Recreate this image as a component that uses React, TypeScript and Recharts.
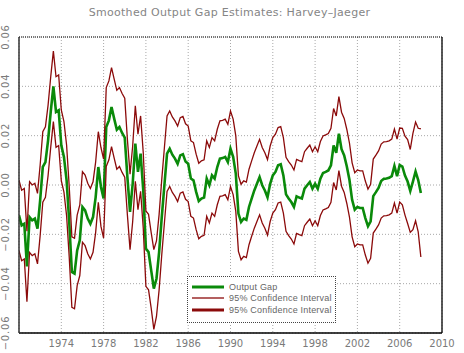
import { LineChart, Line, XAxis, YAxis, CartesianGrid, Legend, ReferenceLine } from 'recharts';

// quarterly observations, 1970Q1 .. 2008Q1
const START_YEAR = 1970;

const gapValues = [
  -0.0123, -0.0164, -0.0157, -0.0330, -0.0130, -0.0143, -0.0136, -0.0177, -0.0062, 0.0073,
  0.0093, 0.0181, 0.0296, 0.0400, 0.0296, 0.0303, 0.0161, 0.0114, 0.0019, -0.0150,
  -0.0353, -0.0359, -0.0265, -0.0224, -0.0089, -0.0103, -0.0136, -0.0157, -0.0130, -0.0049,
  0.0073, -0.0008, -0.0055, 0.0235, 0.0262, 0.0316, 0.0269, 0.0224, 0.0235, 0.0211,
  0.0192, 0.0032, -0.0109, 0.0005, 0.0168, 0.0053, 0.0127, -0.0022, -0.0258, -0.0272,
  -0.0346, -0.0420, -0.0380, -0.0272, -0.0130, -0.0001, 0.0127, 0.0147, 0.0123, 0.0107,
  0.0086, 0.0120, 0.0125, 0.0095, 0.0086, 0.0026, 0.0019, -0.0028, -0.0065, -0.0055,
  -0.0051, 0.0026, -0.0001, 0.0039, 0.0026, 0.0073, 0.0107, 0.0109, 0.0114, 0.0093,
  0.0147, 0.0114, 0.0046, -0.0116, -0.0150, -0.0136, -0.0141, -0.0089, -0.0055, -0.0022,
  0.0005, 0.0032, -0.0001, -0.0022, -0.0050, 0.0005, 0.0039, 0.0053, 0.0080, 0.0084,
  0.0039, -0.0038, -0.0055, -0.0069, -0.0089, -0.0046, -0.0051, -0.0055, -0.0015, -0.0001,
  0.0012, -0.0015, 0.0005, -0.0015, 0.0026, 0.0049, 0.0053, 0.0059, 0.0080, 0.0160,
  0.0130, 0.0208, 0.0145, 0.0120, 0.0075, 0.0020, -0.0060, -0.0100, -0.0089, -0.0093,
  -0.0093, -0.0134, -0.0167, -0.0147, -0.0045, -0.0029, -0.0012, 0.0016, 0.0025, 0.0026,
  0.0029, 0.0036, 0.0077, 0.0036, 0.0081, 0.0075, 0.0038, 0.0014, -0.0024, 0.0014,
  0.0055, 0.0020, -0.0032,
];

const upperValues = [
  0.0020, -0.0021, -0.0014, -0.0187, 0.0013, 0.0000, 0.0007, -0.0034, 0.0081, 0.0216,
  0.0236, 0.0324, 0.0439, 0.0543, 0.0439, 0.0446, 0.0304, 0.0257, 0.0162, -0.0007,
  -0.0210, -0.0216, -0.0122, -0.0081, 0.0054, 0.0040, 0.0007, -0.0014, 0.0013, 0.0094,
  0.0216, 0.0152, 0.0105, 0.0395, 0.0422, 0.0476, 0.0429, 0.0384, 0.0395, 0.0371,
  0.0352, 0.0185, 0.0044, 0.0158, 0.0321, 0.0206, 0.0280, 0.0131, -0.0105, -0.0119,
  -0.0193, -0.0262, -0.0227, -0.0119, 0.0023, 0.0152, 0.0280, 0.0300, 0.0276, 0.0260,
  0.0239, 0.0273, 0.0278, 0.0248, 0.0239, 0.0179, 0.0172, 0.0125, 0.0088, 0.0098,
  0.0102, 0.0179, 0.0152, 0.0192, 0.0179, 0.0226, 0.0260, 0.0262, 0.0267, 0.0246,
  0.0300, 0.0267, 0.0199, 0.0037, 0.0003, 0.0017, 0.0012, 0.0064, 0.0098, 0.0131,
  0.0158, 0.0185, 0.0152, 0.0131, 0.0103, 0.0158, 0.0192, 0.0206, 0.0233, 0.0237,
  0.0192, 0.0112, 0.0095, 0.0081, 0.0061, 0.0104, 0.0099, 0.0095, 0.0135, 0.0149,
  0.0162, 0.0135, 0.0155, 0.0135, 0.0176, 0.0199, 0.0203, 0.0209, 0.0230, 0.0310,
  0.0280, 0.0358, 0.0295, 0.0270, 0.0225, 0.0170, 0.0090, 0.0050, 0.0061, 0.0057,
  0.0057, 0.0016, -0.0017, 0.0003, 0.0105, 0.0121, 0.0138, 0.0166, 0.0175, 0.0176,
  0.0179, 0.0186, 0.0227, 0.0186, 0.0231, 0.0230, 0.0198, 0.0184, 0.0144, 0.0209,
  0.0255, 0.0230, 0.0228,
];

const lowerValues = [
  -0.0266, -0.0307, -0.0300, -0.0473, -0.0273, -0.0286, -0.0279, -0.0320, -0.0205, -0.0070,
  -0.0050, 0.0038, 0.0153, 0.0257, 0.0153, 0.0160, 0.0018, -0.0029, -0.0124, -0.0293,
  -0.0496, -0.0502, -0.0408, -0.0367, -0.0232, -0.0246, -0.0279, -0.0300, -0.0273, -0.0192,
  -0.0070, -0.0168, -0.0215, 0.0075, 0.0102, 0.0156, 0.0109, 0.0064, 0.0075, 0.0051,
  0.0032, -0.0121, -0.0262, -0.0148, 0.0015, -0.0100, -0.0026, -0.0175, -0.0411, -0.0425,
  -0.0499, -0.0585, -0.0533, -0.0425, -0.0283, -0.0154, -0.0026, -0.0006, -0.0030, -0.0046,
  -0.0067, -0.0033, -0.0028, -0.0058, -0.0067, -0.0127, -0.0134, -0.0181, -0.0218, -0.0208,
  -0.0204, -0.0127, -0.0154, -0.0114, -0.0127, -0.0080, -0.0046, -0.0044, -0.0039, -0.0060,
  -0.0006, -0.0039, -0.0107, -0.0269, -0.0303, -0.0289, -0.0294, -0.0242, -0.0208, -0.0175,
  -0.0148, -0.0121, -0.0154, -0.0175, -0.0203, -0.0148, -0.0114, -0.0100, -0.0073, -0.0069,
  -0.0114, -0.0188, -0.0205, -0.0219, -0.0239, -0.0196, -0.0201, -0.0205, -0.0165, -0.0151,
  -0.0138, -0.0165, -0.0145, -0.0165, -0.0124, -0.0101, -0.0097, -0.0091, -0.0070, 0.0010,
  -0.0020, 0.0058, -0.0005, -0.0030, -0.0075, -0.0130, -0.0210, -0.0250, -0.0239, -0.0243,
  -0.0243, -0.0284, -0.0317, -0.0297, -0.0195, -0.0179, -0.0162, -0.0134, -0.0125, -0.0124,
  -0.0121, -0.0114, -0.0073, -0.0114, -0.0069, -0.0080, -0.0122, -0.0156, -0.0192, -0.0181,
  -0.0145, -0.0190, -0.0292,
];

const xTicks = [1974, 1978, 1982, 1986, 1990, 1994, 1998, 2002, 2006, 2010];
const yTicks = [-0.06, -0.04, -0.02, 0, 0.02, 0.04, 0.06];
const X_DOMAIN: [number, number] = [1970, 2010];
const Y_DOMAIN: [number, number] = [-0.06, 0.06];

const GREEN = '#0a8a0a';
const DARK_RED = '#8b0a0a';
const TEXT = '#7a7a7a';
const FONT = '"DejaVu Sans", sans-serif';

const data = gapValues.map((gap, i) => ({
  t: START_YEAR + i / 4,
  gap,
  upper: upperValues[i],
  lower: lowerValues[i],
}));

// legend order and sample widths (the second band is drawn heavier in the key)
const LEGEND_ORDER = ['gap', 'upper', 'lower'];
const LEGEND_WIDTH: Record<string, number> = { gap: 3, upper: 1.3, lower: 3 };

const renderYTick = (props: any) => {
  const { y, payload } = props;
  const label = Number(payload.value).toFixed(2).replace('-', '\u2212');
  return (
    <g transform={`translate(5, ${y}) rotate(-90)`}>
      <text x={0} y={0} textAnchor="middle" dominantBaseline="central" fill={TEXT} fontSize={10} fontFamily={FONT} letterSpacing={0.8}>
        {label}
      </text>
    </g>
  );
};

const renderLegend = (props: any) => {
  const items = [...(props.payload || [])].sort(
    (a: any, b: any) => LEGEND_ORDER.indexOf(a.dataKey) - LEGEND_ORDER.indexOf(b.dataKey)
  );
  return (
    <div
      style={{
        width: 147,
        height: 40,
        border: '1px dotted #444',
        background: '#fff',
        paddingTop: 4,
        paddingBottom: 1,
      }}
    >
      {items.map((entry: any) => (
        <div key={entry.dataKey} style={{ display: 'flex', alignItems: 'center', height: 11.5 }}>
          <svg width={37} height={6} style={{ marginLeft: 4, flex: 'none' }}>
            <line x1={0} x2={32} y1={3} y2={3} stroke={entry.color} strokeWidth={LEGEND_WIDTH[entry.dataKey]} />
          </svg>
          <span style={{ fontSize: 9, fontFamily: '"Liberation Sans", sans-serif', color: '#666', letterSpacing: 0.2, whiteSpace: 'nowrap' }}>
            {entry.value}
          </span>
        </div>
      ))}
    </div>
  );
};

export default function App() {
  return (
    <div style={{ position: 'fixed', left: 0, top: 0, width: 464, height: 353, background: '#fff' }}>
      <div
        style={{
          position: 'absolute',
          top: 6,
          left: 0,
          width: 459,
          textAlign: 'center',
          fontSize: 11,
          lineHeight: '14px',
          fontFamily: FONT,
          color: '#858585',
          letterSpacing: 0.3,
          zIndex: 1,
        }}
      >
        Smoothed Output Gap Estimates: Harvey–Jaeger
      </div>
      <LineChart width={464} height={353} data={data} margin={{ top: 37, right: 22, bottom: 0, left: 0 }}>
        <CartesianGrid stroke="#a8a8a8" strokeDasharray="1 2" />
        <XAxis
          dataKey="t"
          type="number"
          domain={X_DOMAIN}
          ticks={xTicks}
          allowDataOverflow
          height={20}
          axisLine={{ stroke: '#000', strokeWidth: 1.5 }}
          tickLine={false}
          tickSize={0}
          tickMargin={7}
          tick={{ fill: TEXT, fontSize: 10, fontFamily: FONT }}
        />
        <YAxis
          type="number"
          domain={Y_DOMAIN}
          ticks={yTicks}
          allowDataOverflow
          width={19}
          axisLine={{ stroke: '#333', strokeWidth: 1.5 }}
          tickLine={false}
          tick={renderYTick}
        />
        {/* frame: dotted top edge, solid right edge */}
        <ReferenceLine y={Y_DOMAIN[1]} stroke="#000" strokeWidth={1} strokeDasharray="1 1" />
        <ReferenceLine x={X_DOMAIN[1]} stroke="#222" strokeWidth={1.5} />
        <Legend
          layout="vertical"
          align="center"
          verticalAlign="middle"
          content={renderLegend}
          wrapperStyle={{ position: 'absolute', left: 187, top: 276, width: 149 }}
        />
        <Line
          dataKey="gap"
          name="Output Gap"
          type="linear"
          stroke={GREEN}
          strokeWidth={2.6}
          dot={false}
          isAnimationActive={false}
        />
        <Line
          dataKey="upper"
          name="95% Confidence Interval"
          type="linear"
          stroke={DARK_RED}
          strokeWidth={1.3}
          dot={false}
          isAnimationActive={false}
        />
        <Line
          dataKey="lower"
          name="95% Confidence Interval"
          type="linear"
          stroke={DARK_RED}
          strokeWidth={1.3}
          dot={false}
          isAnimationActive={false}
        />
      </LineChart>
    </div>
  );
}
